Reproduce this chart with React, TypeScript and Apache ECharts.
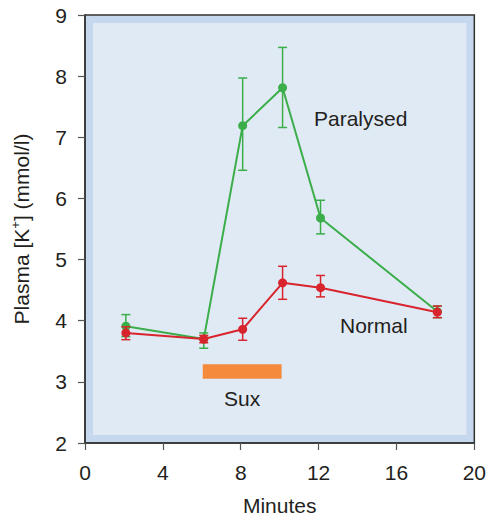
import React, { useEffect, useRef } from "react";
import * as echarts from "echarts";

const minutes = [2.1, 6.1, 8.1, 10.15, 12.1, 18.1];
const paralysedMean = [3.91, 3.7, 7.19, 7.81, 5.68, 4.15];
const paralysedLow = [3.74, 3.55, 6.46, 7.16, 5.42, 4.05];
const paralysedHigh = [4.1, 3.8, 7.97, 8.47, 5.97, 4.24];
const normalMean = [3.8, 3.7, 3.86, 4.62, 4.54, 4.14];
const normalLow = [3.69, 3.64, 3.68, 4.35, 4.39, 4.05];
const normalHigh = [3.9, 3.76, 4.04, 4.89, 4.74, 4.24];
const suxPeriod = [6.05, 10.1];
const suxBand = [3.05, 3.29];
const xTicks = [0, 4, 8, 12, 16, 20];
const yTicks = [2, 3, 4, 5, 6, 7, 8, 9];

const GREEN = "#3bae4a";
const RED = "#d8242c";
const TEXT = "#231f20";
const FONT = "Liberation Sans, Arial, Helvetica, sans-serif";
const FS = 21;

function errorSeries(name: string, low: number[], high: number[], color: string, z: number) {
  return {
    type: "custom",
    name,
    z,
    data: minutes.map((m, i) => [m, low[i], high[i]]),
    renderItem: (_params: any, api: any) => {
      const lo = api.coord([api.value(0), api.value(1)]);
      const hi = api.coord([api.value(0), api.value(2)]);
      const half = 4.5;
      const style = { stroke: color, lineWidth: 1.5 };
      return {
        type: "group",
        children: [
          { type: "line", shape: { x1: lo[0], y1: lo[1], x2: hi[0], y2: hi[1] }, style },
          { type: "line", shape: { x1: lo[0] - half, y1: lo[1], x2: lo[0] + half, y2: lo[1] }, style },
          { type: "line", shape: { x1: hi[0] - half, y1: hi[1], x2: hi[0] + half, y2: hi[1] }, style },
        ],
      };
    },
  };
}

export default function App() {
  const ref = useRef<HTMLDivElement>(null);
  useEffect(() => {
    if (!ref.current) return;
    const chart = echarts.init(ref.current, null, { renderer: "svg" });
    chart.setOption({
      animation: false,
      textStyle: { fontFamily: FONT },
      grid: {
        left: 85,
        right: 12,
        top: 15,
        bottom: 74,
        show: true,
        backgroundColor: "#c6d8ee",
        borderColor: "#333",
        borderWidth: 1.5,
      },
      xAxis: {
        type: "value",
        min: 0,
        max: 20,
        interval: 4,
        name: "Minutes",
        nameLocation: "middle",
        nameGap: 52,
        nameTextStyle: { fontSize: FS, color: TEXT, fontFamily: FONT },
        axisLine: { show: true, onZero: false, lineStyle: { color: "#333", width: 1.5 } },
        axisTick: { show: true, inside: false, length: 7, lineStyle: { color: "#555", width: 1.2 } },
        axisLabel: {
          fontSize: FS,
          color: TEXT,
          margin: 19,
          fontFamily: FONT,
          formatter: (v: number) => (xTicks.includes(v) ? String(v) : ""),
        },
        splitLine: { show: false },
      },
      yAxis: {
        type: "value",
        min: 2,
        max: 9,
        interval: 1,
        name: "{a|Plasma [K}{s|+}{a|] (mmol/l)}",
        nameLocation: "middle",
        nameGap: 52,
        nameRotate: 90,
        nameTextStyle: {
          rich: {
            a: { fontSize: FS, color: TEXT, fontFamily: FONT },
            s: { fontSize: 13, color: TEXT, fontFamily: FONT, padding: [0, 0, 11, 0] },
          },
        },
        axisLine: { show: true, onZero: false, lineStyle: { color: "#333", width: 1.5 } },
        axisTick: { show: true, inside: false, length: 7, lineStyle: { color: "#555", width: 1.2 } },
        axisLabel: {
          fontSize: FS,
          color: TEXT,
          margin: 18,
          fontFamily: FONT,
          formatter: (v: number) => (yTicks.includes(v) ? String(v) : ""),
        },
        splitLine: { show: false },
      },
      graphic: [
        { type: "text", z: 100, left: 314, top: 108, style: { text: "Paralysed", fontSize: FS, fill: TEXT, fontFamily: FONT } },
        { type: "text", z: 100, left: 340, top: 315, style: { text: "Normal", fontSize: FS, fill: TEXT, fontFamily: FONT } },
        { type: "text", z: 100, left: 224, top: 388, style: { text: "Sux", fontSize: FS, fill: TEXT, fontFamily: FONT } },
      ],
      series: [
        {
          type: "custom",
          name: "inner",
          z: 0,
          silent: true,
          data: [[0]],
          renderItem: (params: any) => {
            const cs = params.coordSys;
            const inset = 8;
            return {
              type: "rect",
              shape: { x: cs.x + inset, y: cs.y + inset, width: cs.width - 2 * inset, height: cs.height - 2 * inset },
              style: { fill: "#e0eaf5" },
            };
          },
        },
        {
          type: "custom",
          name: "sux",
          z: 1,
          data: [[suxPeriod[0], suxPeriod[1], suxBand[0], suxBand[1]]],
          renderItem: (_params: any, api: any) => {
            const p1 = api.coord([api.value(0), api.value(3)]);
            const p2 = api.coord([api.value(1), api.value(2)]);
            return {
              type: "rect",
              shape: { x: p1[0], y: p1[1], width: p2[0] - p1[0], height: p2[1] - p1[1] },
              style: { fill: "#f58a3d" },
            };
          },
        },
        errorSeries("paralysedErr", paralysedLow, paralysedHigh, GREEN, 3),
        {
          type: "line",
          name: "Paralysed",
          z: 4,
          data: minutes.map((m, i) => [m, paralysedMean[i]]),
          symbol: "circle",
          symbolSize: 9,
          lineStyle: { color: GREEN, width: 2 },
          itemStyle: { color: GREEN },
        },
        errorSeries("normalErr", normalLow, normalHigh, RED, 5),
        {
          type: "line",
          name: "Normal",
          z: 6,
          data: minutes.map((m, i) => [m, normalMean[i]]),
          symbol: "circle",
          symbolSize: 9,
          lineStyle: { color: RED, width: 2 },
          itemStyle: { color: RED },
        },
      ],
    });
    return () => chart.dispose();
  }, []);
  return <div ref={ref} style={{ position: "absolute", left: 0, top: 0, width: 489, height: 521 }} />;
}
